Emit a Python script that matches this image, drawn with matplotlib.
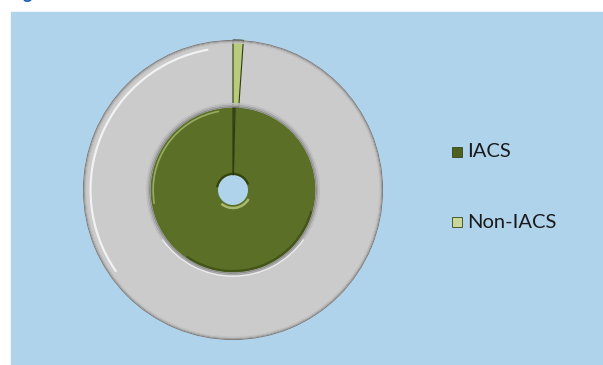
import matplotlib.pyplot as plt
from matplotlib.patches import Wedge, Arc, Rectangle
import numpy as np

categories = ['IACS', 'Non-IACS']
inner_values = [99.6, 0.4]
outer_values = [98.9, 1.1]

inner_colors = ['#5b6f27', '#3e4d18']
outer_colors = ['#cbcbcb', '#b9cc7e']
legend_colors = ['#4f6120', '#c9d79a']

W, H = 603, 365
fig = plt.figure(figsize=(W / 100, H / 100), dpi=100)
fig.patch.set_facecolor('white')

# blue plot area
fig.patches.append(Rectangle((11 / W, 0), 1 - 11 / W, (H - 12) / H,
                             transform=fig.transFigure, color='#b0d3ec', zorder=-1))

# cut-off title at the very top
fig.text(8 / W, (H + 1) / H, 'Figure 3.6: IACS share', color='#1f5fb0',
         fontsize=13, fontweight='bold', va='baseline', family='Lato')

# pie axes: centre (233,190), radius 150 px
cx, cy, R = 233, 190, 150
ax = fig.add_axes([(cx - R) / W, (H - cy - R) / H, 2 * R / W, 2 * R / H])
ax.set_zorder(2)
ax.patch.set_visible(False)

r_mid = 0.55
r_hole = 0.10

outer_w, _ = ax.pie(outer_values, radius=1.0, colors=outer_colors, startangle=90,
                    wedgeprops=dict(width=1.0 - r_mid, edgecolor='none'))
inner_w, _ = ax.pie(inner_values, radius=r_mid, colors=inner_colors, startangle=90,
                    wedgeprops=dict(width=r_mid - r_hole, edgecolor='none'))
ax.set_xlim(-1, 1)
ax.set_ylim(-1, 1)
ax.set_aspect('equal')
ax.axis('off')

# edges of the thin slices
for w in [outer_w[1], inner_w[1]]:
    w.set_edgecolor('#2f3a12')
    w.set_linewidth(0.8)

# bevel shading, outer ring
for i, c in enumerate(['#777777', '#9a9a9a', '#b4b4b4', '#c3c3c3']):
    ax.add_patch(Wedge((0, 0), 1.0 - i * 0.006, 0, 360, width=0.006, color=c, lw=0, zorder=3))
ax.add_patch(Arc((0, 0), 1.90, 1.90, theta1=100, theta2=215, color='white', lw=1.6, alpha=0.75, zorder=4))
# shadow where gray meets green
for i, c in enumerate(['#8f8f8f', '#a8a8a8', '#bebebe']):
    ax.add_patch(Wedge((0, 0), r_mid + (i + 1) * 0.01, 0, 360, width=0.01, color=c, lw=0, zorder=3))
ax.add_patch(Arc((0, 0), 2 * r_mid + 0.05, 2 * r_mid + 0.05, theta1=215, theta2=325,
                 color='white', lw=1.0, alpha=0.7, zorder=4))

# bevel shading, green ring
ax.add_patch(Arc((0, 0), 2 * r_mid - 0.035, 2 * r_mid - 0.035, theta1=100, theta2=190,
                 color='#a9bb73', lw=1.2, alpha=0.8, zorder=4))
ax.add_patch(Arc((0, 0), 2 * r_mid - 0.02, 2 * r_mid - 0.02, theta1=235, theta2=345,
                 color='#36430f', lw=1.6, alpha=0.6, zorder=4))
ax.add_patch(Arc((0, 0), 2 * r_hole + 0.04, 2 * r_hole + 0.04, theta1=230, theta2=330,
                 color='#c9d88e', lw=1.8, alpha=0.7, zorder=4))
ax.add_patch(Arc((0, 0), 2 * r_hole + 0.015, 2 * r_hole + 0.015, theta1=20, theta2=170,
                 color='#2c3809', lw=1.6, alpha=0.8, zorder=4))

# legend
ys = [152, 222]
for lab, col, y in zip(categories, legend_colors, ys):
    fig.patches.append(Rectangle((452 / W, (H - y - 5) / H), 10 / W, 10 / H,
                                 transform=fig.transFigure, facecolor=col,
                                 edgecolor='#3a4515', lw=0.6, zorder=5))
    fig.text(467 / W, (H - y) / H, lab, fontsize=14.5, family='Lato',
             color='#1a1a1a', va='center')

fig.savefig('out.png', dpi=100)
